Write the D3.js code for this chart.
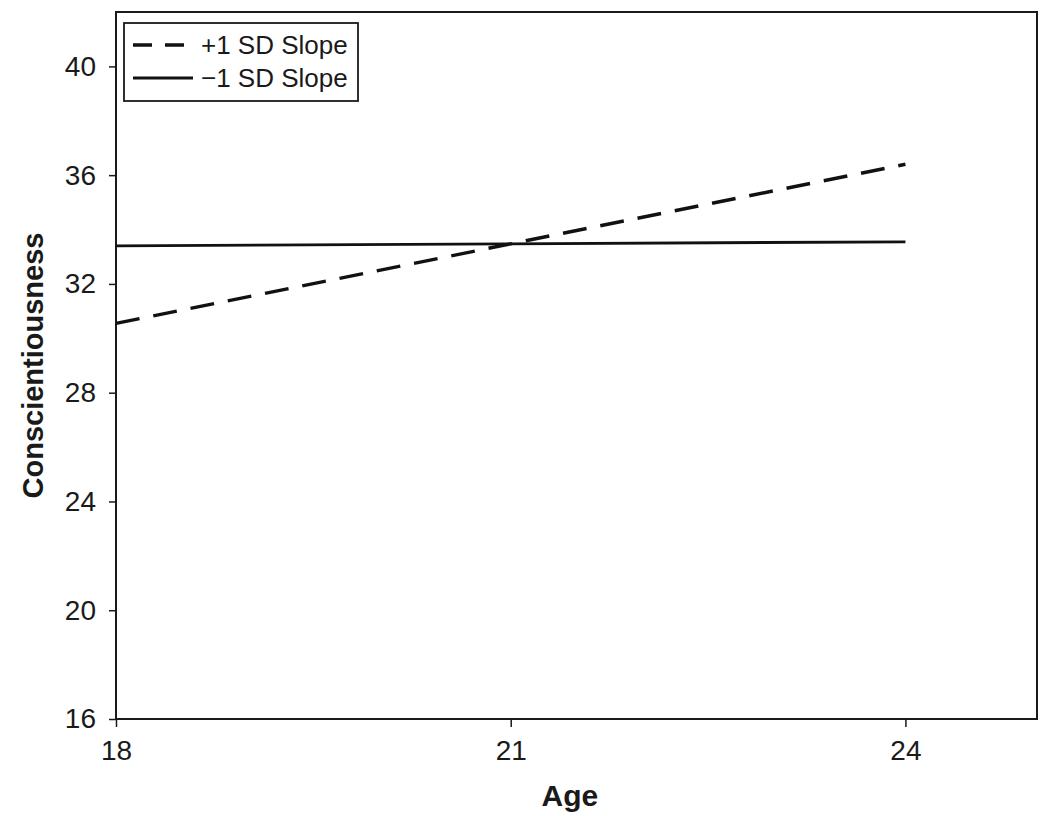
<!DOCTYPE html>
<html>
<head>
<meta charset="utf-8">
<script src="https://cdn.jsdelivr.net/npm/d3@7"></script>
<style>
  body { margin: 0; background: #fff; }
  svg text { font-family: "Liberation Sans", Arial, sans-serif; fill: #1a1a1a; }
</style>
</head>
<body>
<svg id="chart" width="1050" height="816"></svg>
<script>
// data
var ages = [18, 24];
var plusSlope = [30.55, 36.4];   // +1 SD slope (dashed)
var minusSlope = [33.4, 33.55];  // -1 SD slope (solid)
var xTicks = [18, 21, 24];
var yTicks = [16, 20, 24, 28, 32, 36, 40];
var seriesNames = ['+1 SD Slope', '\u22121 SD Slope'];

var svg = d3.select('#chart');
var m = {l: 116, t: 12, r: 1037, b: 719};

var x = d3.scaleLinear().domain([18, 25]).range([m.l, m.r]);
var y = d3.scaleLinear().domain([16, 42]).range([m.b, m.t]);

// frame
svg.append('rect').attr('x', m.l).attr('y', m.t)
    .attr('width', m.r - m.l).attr('height', m.b - m.t)
    .style('fill', 'none').style('stroke', '#1a1a1a').style('stroke-width', 2);

// axes
var xAxis = svg.append('g').attr('transform', 'translate(0,' + m.b + ')')
    .call(d3.axisBottom(x).tickValues(xTicks).tickFormat(d3.format('d'))
        .tickSize(8).tickSizeOuter(0).tickPadding(13));
var yAxis = svg.append('g').attr('transform', 'translate(' + m.l + ',0)')
    .call(d3.axisLeft(y).tickValues(yTicks).tickFormat(d3.format('d'))
        .tickSize(7).tickSizeOuter(0).tickPadding(13));

[xAxis, yAxis].forEach(function(a) {
    a.attr('font-size', null).attr('font-family', null);
    a.select('.domain').remove();
    a.selectAll('.tick line').style('stroke', '#1a1a1a').style('stroke-width', 1.5);
    a.selectAll('.tick text').style('font-size', '28px').style('fill', '#1a1a1a');
});

// axis titles
svg.append('text').attr('x', x(21.45)).attr('y', 806)
    .attr('text-anchor', 'middle').style('font-size', '30px').style('font-weight', 'bold')
    .text('Age');
svg.append('text').attr('transform', 'translate(43,' + ((m.t + m.b) / 2) + ') rotate(-90)')
    .attr('text-anchor', 'middle').style('font-size', '29px').style('font-weight', 'bold')
    .text('Conscientiousness');

// lines
var line = d3.line().x(function(d) { return x(d[0]); }).y(function(d) { return y(d[1]); });

svg.append('path').datum(d3.zip(ages, plusSlope)).attr('d', line)
    .style('fill', 'none').style('stroke', '#111').style('stroke-width', 3.4)
    .style('stroke-dasharray', '24,14');
svg.append('path').datum(d3.zip(ages, minusSlope)).attr('d', line)
    .style('fill', 'none').style('stroke', '#111').style('stroke-width', 2.8);

// legend
var lg = svg.append('g');
lg.append('rect').attr('x', 124).attr('y', 23).attr('width', 234).attr('height', 78)
    .style('fill', '#fff').style('stroke', '#1a1a1a').style('stroke-width', 1.8);
seriesNames.forEach(function(name, i) {
    var yy = 45 + i * 33;
    lg.append('line').attr('x1', 133).attr('x2', 193).attr('y1', yy).attr('y2', yy)
        .style('stroke', '#111').style('stroke-width', i === 0 ? 3.4 : 2.8)
        .style('stroke-dasharray', i === 0 ? '19,13' : null);
    lg.append('text').attr('x', 201).attr('y', yy + 9).style('font-size', '26px').text(name);
});
</script>
</body>
</html>
